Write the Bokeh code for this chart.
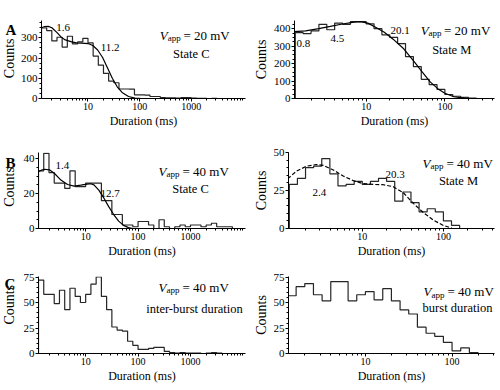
import numpy as np
from math import pi
from bokeh.plotting import figure
from bokeh.layouts import row, column
from bokeh.models import Label, FixedTicker, SingleIntervalTicker, Range1d, BasicTickFormatter
from bokeh.core.properties import value
from bokeh.embed import file_html
from bokeh.resources import INLINE

# ---------------- data ----------------
BIN_FIRST_LOG = 0.1   # log10 of first bin edge (ms)
BIN_WIDTH_LOG = 0.1   # bins: 10 per decade

# A: V_app = 20 mV, State C
a_c_counts = [349, 336, 285, 303, 254, 308, 270, 280, 298, 275, 210, 165, 124, 86, 78,
              47, 47, 46, 18, 18, 17, 10, 10, 5, 3, 3, 2, 5, 4, 2, 1, 1, 0, 1, 0, 0, 0, 0, 0]
a_c_fit_x = [1.26, 1.45, 1.7, 2.0, 2.52, 3.0, 3.63, 4.84, 6.0, 7.5, 10, 12.4, 15.4, 19.2,
             23.8, 29.6, 36.8, 45.7, 61, 81.5, 110]
a_c_fit_y = [350, 356, 357, 350, 326, 305, 290, 280, 275, 274, 272, 262, 240, 203,
             152, 100, 58, 30, 10, 2, 0]

# A: V_app = 20 mV, State M
a_m_counts = [377, 372, 387, 425, 394, 432, 425, 440, 440, 428, 400, 365, 350, 315, 240,
              183, 110, 80, 52, 23, 13, 7, 2, 0]
a_m_fit_x = [1.22, 1.7, 2.5, 3.5, 5, 7, 8.5, 10.5, 13, 17, 22, 30, 40, 52, 65, 82, 100, 130, 175]
a_m_fit_y = [383, 388, 400, 413, 427, 438, 441, 432, 410, 380, 340, 285, 215, 150, 95, 55, 30, 10, 2]

# B: V_app = 40 mV, State C
b_c_counts = [33, 43, 32, 26, 26, 23, 33, 24, 24, 26, 26, 26, 16, 16, 8, 8, 2, 2, 1, 4,
              4, 2, 0, 5, 1, 0, 1, 2, 1, 2, 2, 1, 2, 3, 1, 1, 1, 0, 0]
b_c_fit_x = [1.26, 1.45, 1.64, 2.03, 2.52, 3.37, 4.51, 6.01, 8.05, 10.7, 12.5, 14.4, 17.8,
             22.2, 27.5, 34.3, 42.6, 52.9, 65.8, 80]
b_c_fit_y = [32.5, 33.5, 33.9, 33.6, 31.6, 27.7, 25.2, 24.3, 24.8, 25.4, 25.6, 25.0, 22,
             17.5, 12.5, 8, 4.2, 1.8, 0.5, 0]

# B: V_app = 40 mV, State M
b_m_counts = [29, 33, 40, 41, 46, 36, 28, 29, 31, 29, 31, 33, 31, 18, 24, 17, 11, 13, 11, 5, 2, 0]
b_m_fit_x = [1.20, 1.55, 2.05, 2.73, 3.30, 4.39, 5.82, 7.74, 10.3, 13.7, 18.1, 24.1, 32.1,
             42.6, 56.6, 75.3, 100, 127]
b_m_fit_y = [32.7, 37.8, 41, 42.1, 41.5, 38.5, 34.5, 31.5, 29.5, 29, 28.8, 27.5, 23.5,
             16.5, 10.5, 5.5, 2, 0.3]

# C: V_app = 40 mV, inter-burst duration
c_ib_counts = [72, 58, 58, 49, 62, 43, 64, 56, 50, 58, 68, 75, 56, 43, 26, 23, 22, 12, 8, 4,
               4, 5, 6, 6, 2, 1, 0.5, 1, 0.5, 0.5, 0.5, 0, 0.5, 1, 0.5, 0, 0, 0, 0]
# C: V_app = 40 mV, burst duration
c_b_counts = [57, 66, 69, 58, 52, 71, 71, 52, 58, 61, 53, 64, 52, 43, 39, 26, 20, 17, 11, 2.5, 5.5, 1]

x_major_left = [10, 100, 1000]
x_major_right = [10, 100]
x_label = "Duration (ms)"
y_label = "Counts"
panel_letters = ["A", "B", "C"]

# ---------------- layout specs (page pixel geometry, page origin at 0,0) ----------------
FONT = "Liberation Serif"
STRIP_W = 17


def spec(px, py, w, h, bl, br, bt, bb, lx0, lx1, y0, y1, yint, ymin):
    s = dict(px=px, py=py, w=w, h=h, bl=bl, br=br, bt=bt, bb=bb,
             lx0=lx0, lx1=lx1, y0=y0, y1=y1, yint=yint, ymin=ymin)
    s['fl'] = px + bl
    s['fw'] = w - bl - br
    s['ft'] = py + bt
    s['fh'] = h - bt - bb
    s['fb'] = s['ft'] + s['fh']
    return s

LW = 250 - STRIP_W
S_AL = spec(STRIP_W, 0, LW, 130, 21, 5, 14, 31, 0.1, 4.05, 0, 386, 100, 4)
S_AR = spec(250, 0, 248, 130, 38, 4, 20, 31, 0.09, 2.63, 0, 447, 100, 4)
S_BL = spec(STRIP_W, 130, LW, 130, 21, 5, 14, 30, 0.1, 4.05, 0, 43.5, 20, 4)
S_BR = spec(250, 130, 248, 130, 38, 4, 22, 30, 0.09, 2.63, 0, 50, 25, 5)
S_CL = spec(STRIP_W, 260, LW, 128, 21, 5, 15, 35, 0.1, 4.05, 0, 75.5, 25, 5)
S_CR = spec(250, 260, 248, 128, 38, 4, 16, 32, 0.112, 2.49, 0, 76, 25, 5)


def to_data(s, px, py):
    lx = s['lx0'] + (px - s['fl']) / s['fw'] * (s['lx1'] - s['lx0'])
    y = s['y0'] + (s['fb'] - py) / s['fh'] * (s['y1'] - s['y0'])
    return 10 ** lx, y


def minor_ticks(lx0, lx1, majors):
    out = []
    for k in range(0, 5):
        for m in range(1, 10):
            v = m * 10 ** k
            if 10 ** lx0 <= v <= 10 ** lx1 and v not in majors:
                out.append(v)
    return out


def make_fig(s, majors, with_ylabel):
    p = figure(width=s['w'], height=s['h'], x_axis_type="log",
               x_range=Range1d(10 ** s['lx0'], 10 ** s['lx1']),
               y_range=Range1d(s['y0'], s['y1']),
               output_backend="svg", toolbar_location=None,
               min_border_left=s['bl'], min_border_right=s['br'],
               min_border_top=s['bt'], min_border_bottom=s['bb'])
    p.outline_line_color = None
    p.grid.visible = False
    p.background_fill_color = "white"
    p.border_fill_color = "white"
    p.xaxis.ticker = FixedTicker(ticks=majors, minor_ticks=minor_ticks(s['lx0'], s['lx1'], majors))
    p.xaxis.formatter = BasicTickFormatter()
    p.yaxis.ticker = SingleIntervalTicker(interval=s['yint'], num_minor_ticks=s['ymin'])
    for ax in (p.xaxis[0], p.yaxis[0]):
        ax.axis_line_color = "black"
        ax.axis_line_width = 1
        ax.major_tick_line_color = "black"
        ax.minor_tick_line_color = "black"
        ax.major_tick_out = 3
        ax.major_tick_in = 0
        ax.minor_tick_out = 2
        ax.minor_tick_in = 0
        ax.major_label_text_font = FONT
        ax.major_label_text_color = "black"
        ax.major_label_standoff = 1
        ax.axis_label_text_font = FONT
        ax.axis_label_text_font_style = "normal"
        ax.axis_label_text_color = "black"
    p.xaxis.major_label_text_font_size = "10px"
    p.yaxis.major_label_text_font_size = "11px"
    p.xaxis.axis_label = x_label
    p.xaxis.axis_label_text_font_size = "12px"
    p.xaxis.axis_label_standoff = 1
    if with_ylabel:
        p.yaxis.axis_label = y_label
        p.yaxis.axis_label_text_font_size = "14px"
        p.yaxis.axis_label_standoff = 2
    return p


def strip(h, letter, letter_base, counts_cx, counts_cy, letter_x=5):
    # narrow figure holding the panel letter and the rotated y label of the left panel
    p = figure(width=STRIP_W, height=h, x_range=Range1d(0, STRIP_W), y_range=Range1d(h, 0),
               output_backend="svg", toolbar_location=None, min_border=0,
               x_axis_location=None, y_axis_location=None)
    p.outline_line_color = None
    p.grid.visible = False
    p.text(x=[letter_x], y=[letter_base], text=[letter], text_font=value(FONT),
           text_font_size="15px", text_font_style="bold", text_baseline="alphabetic",
           text_align="left", text_color="black")
    p.text(x=[counts_cx], y=[counts_cy], text=[y_label], text_font=value(FONT),
           text_font_size="14px", angle=pi / 2, text_baseline="middle",
           text_align="center", text_color="black")
    return p


def add_hist(p, counts, color="#262626"):
    edges = 10 ** (BIN_FIRST_LOG + BIN_WIDTH_LOG * np.arange(len(counts) + 1))
    xs = [edges[0]]
    ys = [0]
    for i, c in enumerate(counts):
        xs += [edges[i], edges[i + 1]]
        ys += [c, c]
    xs.append(edges[len(counts)])
    ys.append(0)
    p.line(xs, ys, line_color=color, line_width=1.2)


def txt(p, s, px, py, text, size="11px", align="left", style="normal"):
    x, y = to_data(s, px, py)
    p.add_layout(Label(x=x, y=y, text=text, text_align=align, text_baseline="alphabetic",
                       text_font=FONT, text_font_size=size, text_font_style=style,
                       text_color="black"))


def vapp(p, s, vx, base, mv):
    txt(p, s, vx, base, "V", size="13px", style="italic")
    txt(p, s, vx + 8, base + 3, "app", size="9px")
    txt(p, s, vx + 24, base, "= %d mV" % mv, size="13px")


# ---- A left
sA = strip(130, panel_letters[0], 15, 8.5, 63)
pAL = make_fig(S_AL, x_major_left, False)
add_hist(pAL, a_c_counts)
pAL.line(a_c_fit_x, a_c_fit_y, line_color="black", line_width=1.2)
txt(pAL, S_AL, 53, 22, "1.6")
txt(pAL, S_AL, 98, 43, "11.2")
vapp(pAL, S_AL, 158, 30, 20)
txt(pAL, S_AL, 190, 50, "State C", size="12.5px", align="center")

# ---- A right
pAR = make_fig(S_AR, x_major_right, True)
add_hist(pAR, a_m_counts)
pAR.line(a_m_fit_x, a_m_fit_y, line_color="black", line_width=1.2)
txt(pAR, S_AR, 290, 43, "0.8")
txt(pAR, S_AR, 325, 38, "4.5")
txt(pAR, S_AR, 387, 30, "20.1")
vapp(pAR, S_AR, 418, 30, 20)
txt(pAR, S_AR, 450, 50, "State M", size="12.5px", align="center")

# ---- B left
sB = strip(130, panel_letters[1], 148 - 130, 9, 189 - 130)
pBL = make_fig(S_BL, x_major_left, False)
add_hist(pBL, b_c_counts)
pBL.line(b_c_fit_x, b_c_fit_y, line_color="black", line_width=1.2)
txt(pBL, S_BL, 55, 159, "1.4")
txt(pBL, S_BL, 100, 190, "12.7")
vapp(pBL, S_BL, 158, 165, 40)
txt(pBL, S_BL, 190, 185, "State C", size="12.5px", align="center")

# ---- B right
pBR = make_fig(S_BR, x_major_right, True)
add_hist(pBR, b_m_counts)
pBR.line(b_m_fit_x, b_m_fit_y, line_color="black", line_width=1.2, line_dash="4 2")
txt(pBR, S_BR, 312, 193, "2.4")
txt(pBR, S_BR, 385, 175, "20.3")
vapp(pBR, S_BR, 422, 163, 40)
txt(pBR, S_BR, 458, 181, "State M", size="12.5px", align="center")

# ---- C left
sC = strip(128, panel_letters[2], 272 - 260, 9, 307 - 260, letter_x=4)
pCL = make_fig(S_CL, x_major_left, False)
add_hist(pCL, c_ib_counts)
vapp(pCL, S_CL, 158, 286, 40)
txt(pCL, S_CL, 194, 308, "inter-burst duration", size="12.5px", align="center")

# ---- C right
pCR = make_fig(S_CR, x_major_right, True)
add_hist(pCR, c_b_counts)
vapp(pCR, S_CR, 423, 292, 40)
txt(pCR, S_CR, 457, 309, "burst duration", size="12.5px", align="center")

layout = column(row(sA, pAL, pAR), row(sB, pBL, pBR), row(sC, pCL, pCR))

open("out.html", "w").write(file_html(layout, INLINE))
